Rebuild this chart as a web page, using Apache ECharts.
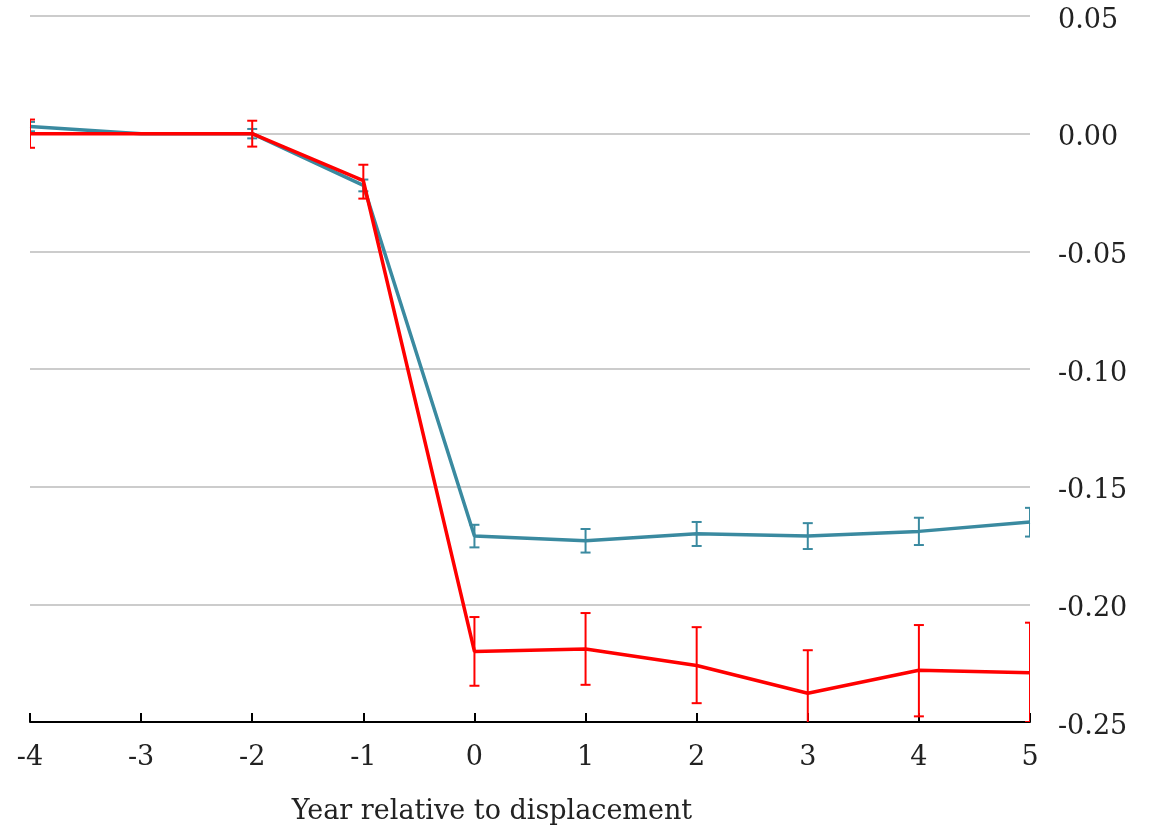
<!DOCTYPE html>
<html>
<head>
<meta charset="utf-8">
<script src="https://cdn.jsdelivr.net/npm/echarts@6/dist/echarts.min.js"></script>
<style>html,body{margin:0;padding:0;background:#fff;}#c{width:1162px;height:830px;}</style>
</head>
<body>
<div id="c"></div>
<script>
const years = [-4, -3, -2, -1, 0, 1, 2, 3, 4, 5];
const blueVals = [0.003, 0, 0, -0.022, -0.171, -0.173, -0.170, -0.171, -0.169, -0.165];
const blueLow  = [0.001, null, -0.002, -0.0245, -0.1758, -0.178, -0.1752, -0.1765, -0.1748, -0.1712];
const blueHigh = [0.005, null, 0.002, -0.0195, -0.1662, -0.168, -0.165, -0.1655, -0.1632, -0.159];
const redVals  = [0, 0, 0, -0.020, -0.220, -0.219, -0.226, -0.2378, -0.228, -0.2291];
const redLow   = [-0.006, null, -0.0055, -0.0276, -0.2346, -0.2342, -0.2420, -0.256, -0.2476, -0.250];
const redHigh  = [0.006, null, 0.0055, -0.0132, -0.2054, -0.2037, -0.2097, -0.2195, -0.2088, -0.2078];
const yTicks = [-0.25, -0.20, -0.15, -0.10, -0.05, 0.00, 0.05];

const BLUE = '#3a8aa0';
const RED = '#ff0000';
const FONT = 'DejaVu Serif';

function pairs(vals) { return years.map((x, i) => [x, vals[i]]); }
function errData(lo, hi) {
  const out = [];
  years.forEach((x, i) => { if (lo[i] !== null && hi[i] !== null) out.push([x, lo[i], hi[i]]); });
  return out;
}
function errSeries(lo, hi, color, lw) {
  return {
    type: 'custom',
    clip: true,
    data: errData(lo, hi),
    encode: { x: 0, y: [1, 2] },
    renderItem: function (params, api) {
      const x = api.value(0);
      const p1 = api.coord([x, api.value(1)]);
      const p2 = api.coord([x, api.value(2)]);
      const w = 5;
      const st = { stroke: color, lineWidth: lw, fill: 'none' };
      return {
        type: 'group',
        children: [
          { type: 'line', shape: { x1: p1[0], y1: p1[1], x2: p2[0], y2: p2[1] }, style: st },
          { type: 'line', shape: { x1: p1[0] - w, y1: p1[1], x2: p1[0] + w, y2: p1[1] }, style: st },
          { type: 'line', shape: { x1: p2[0] - w, y1: p2[1], x2: p2[0] + w, y2: p2[1] }, style: st }
        ]
      };
    },
    silent: true
  };
}

const chart = echarts.init(document.getElementById('c'), null, { renderer: 'canvas' });
chart.setOption({
  animation: false,
  backgroundColor: '#ffffff',
  grid: { left: 30, right: 132, top: 16, bottom: 108 },
  xAxis: {
    type: 'value', min: -4, max: 5, interval: 1,
    name: 'Year relative to displacement',
    nameLocation: 'middle', nameGap: 76,
    nameTextStyle: { fontFamily: FONT, fontSize: 27, color: '#222', padding: [0, 76, 0, 0] },
    axisLine: { show: true, onZero: false, lineStyle: { color: '#000', width: 2 } },
    axisTick: { show: true, inside: true, length: 9, lineStyle: { color: '#000', width: 2 } },
    axisLabel: { fontFamily: FONT, fontSize: 27, color: '#222', margin: 22 },
    splitLine: { show: false }
  },
  yAxis: {
    type: 'value', position: 'right', min: yTicks[0], max: yTicks[yTicks.length - 1], interval: 0.05,
    axisLine: { show: false },
    axisTick: { show: false },
    axisLabel: {
      fontFamily: FONT, fontSize: 27, color: '#222', margin: 28,
      formatter: v => '{a|' + v.toFixed(2) + '}',
      rich: { a: { fontFamily: FONT, fontSize: 27, color: '#222', padding: [9, 0, 0, 0] } }
    },
    splitLine: { show: true, lineStyle: { color: '#cccccc', width: 2 } }
  },
  series: [
    { type: 'line', data: pairs(blueVals), symbol: 'none', lineStyle: { color: BLUE, width: 3.5 }, z: 2 },
    Object.assign(errSeries(blueLow, blueHigh, BLUE, 2), { z: 3 }),
    { type: 'line', data: pairs(redVals), symbol: 'none', lineStyle: { color: RED, width: 3.5 }, z: 4 },
    Object.assign(errSeries(redLow, redHigh, RED, 2), { z: 5 })
  ]
});
</script>
</body>
</html>
